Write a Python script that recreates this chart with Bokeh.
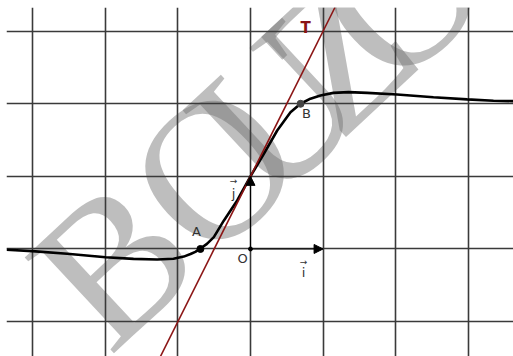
from bokeh.plotting import figure
from bokeh.models import FixedTicker, Slope, Arrow, NormalHead
from bokeh.core.properties import value
from bokeh.embed import file_html
from bokeh.resources import INLINE
import math

# grid positions (units)
grid_x = [-3, -2, -1, 0, 1, 2, 3]
grid_y = [-1, 0, 1, 2, 3]

# curve
curve_x = [-3.36, -3.007, -2.525, -1.997, -1.612, -1.285, -1.061, -0.919, -0.826,
           -0.76, -0.698, -0.60, -0.505, -0.368, -0.183, 0.0, 0.184, 0.368, 0.551,
           0.689, 0.826, 0.964, 1.143, 1.35, 1.607, 2.02, 2.52, 2.985, 3.347, 3.62]
curve_y = [-0.011, -0.030, -0.066, -0.113, -0.136, -0.145, -0.135, -0.105, -0.07,
           -0.04, 0.0, 0.07, 0.163, 0.39, 0.668, 1.0, 1.311, 1.632, 1.884,
           2.0, 2.07, 2.114, 2.15, 2.16, 2.15, 2.128, 2.09, 2.06, 2.041, 2.036]

# tangent T : y = 2x + 1
T_slope = 2.0
T_intercept = 1.0

# points
pt_A = (-0.69, 0.0)
pt_B = (0.69, 2.0)
pt_O = (0.0, 0.0)

# labels
lab_text = ["A", "B", "O", "j", "i"]
lab_x = [-0.744, 0.771, -0.11, -0.234, 0.73]
lab_y = [0.241, 1.866, -0.131, 0.764, -0.33]
arr_x = [-0.234, 0.73]
arr_y = [0.93, -0.18]

# watermark
wm_letters = list("BOUZOU")
wm_advance = [0.0, 1.9, 1.17, 1.17, 1.17, 1.2]   # spacing between letters (units)

p = figure(width=513, height=356, x_range=(-3.361, 3.623), y_range=(-1.481, 3.326),
           output_backend="svg", toolbar_location=None, min_border=0,
           min_border_left=6, min_border_top=7)
p.outline_line_color = None
p.axis.visible = False
p.xgrid.ticker = FixedTicker(ticks=grid_x)
p.ygrid.ticker = FixedTicker(ticks=grid_y)
for g in (p.xgrid, p.ygrid):
    g.grid_line_color = "#3a3a3a"
    g.grid_line_width = 1.6
    g.grid_line_alpha = 1.0

# watermark letters laid out along a rotated baseline
wm_angle = math.radians(43)
wm_x0, wm_y0 = -1.901, -0.186  # centre of the "B"
wx, wy, acc = [], [], 0.0
for a in wm_advance:
    acc += a
    wx.append(wm_x0 + acc * math.cos(wm_angle))
    wy.append(wm_y0 + acc * math.sin(wm_angle))
wm = p.text(x=wx, y=wy, text=wm_letters, angle=wm_angle,
            text_font=value("Liberation Serif"), text_font_size="200px",
            text_color="#6e6e6e", text_alpha=0.45, text_baseline="middle",
            text_align="center")
wm.level = "image"

p.add_layout(Slope(gradient=T_slope, y_intercept=T_intercept, line_color="#8b1414",
                   line_width=1.6))

p.line(curve_x, curve_y, line_color="black", line_width=2.6)

# vectors
p.add_layout(Arrow(end=NormalHead(size=9, fill_color="black", line_color="black"),
                   x_start=pt_O[0], y_start=pt_O[1], x_end=1, y_end=0,
                   line_color="black", line_width=1.0))
p.add_layout(Arrow(end=NormalHead(size=9, fill_color="black", line_color="black"),
                   x_start=pt_O[0], y_start=pt_O[1], x_end=0, y_end=1,
                   line_color="black", line_width=1.0))

p.scatter([pt_A[0]], [pt_A[1]], size=7, color="black")
p.scatter([pt_B[0]], [pt_B[1]], size=7, color="#444444")
p.scatter([pt_O[0]], [pt_O[1]], size=4, color="black")

p.text(lab_x, lab_y, text=lab_text, text_font=value("DejaVu Sans"), text_font_size="13px",
       text_color="#333333", text_align="center", text_baseline="middle")
p.text(arr_x, arr_y, text=["\u2192", "\u2192"], text_font=value("DejaVu Sans"),
       text_font_size="9px", text_color="#333333", text_align="center",
       text_baseline="middle")
p.text([0.758], [3.04], text=["T"], text_font=value("DejaVu Sans"), text_font_size="15px",
       text_font_style="bold", text_color="#8b1414", text_align="center",
       text_baseline="middle")

open("out.html", "w").write(file_html(p, INLINE))
